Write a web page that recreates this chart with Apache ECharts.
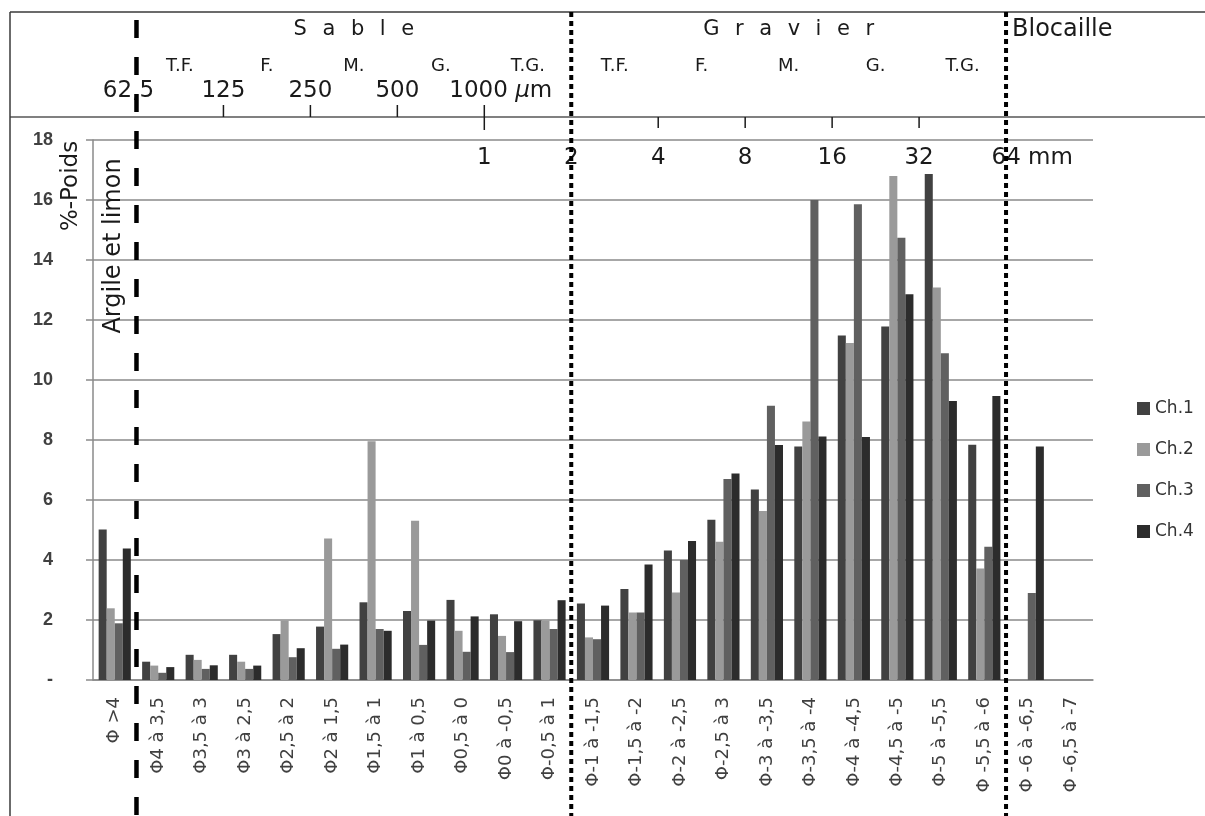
<!DOCTYPE html>
<html><head><meta charset="utf-8">
<script src="https://cdn.jsdelivr.net/npm/echarts@6/dist/echarts.min.js"></script>
<style>html,body{margin:0;padding:0;background:#fff}#c{width:1205px;height:816px}</style>
</head><body><div id="c"></div>
<script>
// ---- data ----
const categories = ['Φ >4','Φ4 à 3,5','Φ3,5 à 3','Φ3 à 2,5','Φ2,5 à 2','Φ2 à 1,5','Φ1,5 à 1','Φ1 à 0,5','Φ0,5 à 0','Φ0 à -0,5','Φ-0,5 à 1','Φ-1 à -1,5','Φ-1,5 à -2','Φ-2 à -2,5','Φ-2,5 à 3','Φ-3 à -3,5','Φ-3,5 à -4','Φ-4 à -4,5','Φ-4,5 à -5','Φ-5 à -5,5','Φ -5,5 à -6','Φ -6 à -6,5','Φ -6,5 à -7'];
const seriesNames = ['Ch.1','Ch.2','Ch.3','Ch.4'];
const ch1 = [5.02,0.61,0.84,0.84,1.53,1.78,2.59,2.30,2.67,2.19,1.99,2.55,3.03,4.32,5.34,6.35,7.78,11.48,11.78,16.87,7.84,0,0];
const ch2 = [2.39,0.48,0.67,0.61,1.98,4.72,7.96,5.31,1.64,1.47,1.98,1.42,2.25,2.92,4.61,5.63,8.62,11.23,16.80,13.08,3.72,0,0];
const ch3 = [1.89,0.24,0.37,0.37,0.76,1.04,1.70,1.17,0.94,0.93,1.70,1.36,2.25,4.00,6.70,9.14,16.00,15.86,14.74,10.89,4.44,2.90,0];
const ch4 = [4.38,0.43,0.49,0.48,1.06,1.18,1.64,1.98,2.12,1.96,2.66,2.48,3.85,4.63,6.88,7.83,8.12,8.10,12.86,9.30,9.47,7.78,0];
const seriesColors = ['#414141','#9a9a9a','#606060','#2c2c2c'];
const sandClasses = ['T.F.','F.','M.','G.','T.G.'];
const gravelClasses = ['T.F.','F.','M.','G.','T.G.'];
const umLabels = ['62,5','125','250','500','1000'];
const mmLabels = ['1','2','4','8','16','32','64 mm'];

const FONT = "'DejaVu Sans', sans-serif";
const chart = echarts.init(document.getElementById('c'));
chart.setOption({
  animation: false,
  backgroundColor: '#ffffff',
  color: seriesColors,
  grid: { left: 93, right: 112, top: 140, bottom: 136, containLabel: false },
  legend: {
    orient: 'vertical', left: 1132, top: 395,
    itemWidth: 13, itemHeight: 13, itemGap: 24, icon: 'rect',
    textStyle: { fontFamily: FONT, fontSize: 17, color: '#333' },
    data: seriesNames
  },
  xAxis: {
    type: 'category', data: categories,
    axisLine: { lineStyle: { color: '#8a8a8a', width: 1.5 } },
    axisTick: { length: 7, lineStyle: { color: '#8a8a8a', width: 1.5 } },
    axisLabel: { rotate: 90, interval: 0, fontFamily: FONT, fontSize: 18, color: '#404040', margin: 17 }
  },
  yAxis: {
    type: 'value', min: 0, max: 18, interval: 2,
    axisLine: { show: true, lineStyle: { color: '#8a8a8a', width: 1.5 } },
    axisTick: { show: true, length: 7, lineStyle: { color: '#8a8a8a', width: 1.5 } },
    splitLine: { lineStyle: { color: '#8a8a8a', width: 1.5 } },
    axisLabel: { formatter: v => v === 0 ? '-' : String(v), fontFamily: "'Liberation Sans', sans-serif", fontWeight: 'bold', fontSize: 18, color: '#404040', margin: 40 }
  },
  series: [ch1, ch2, ch3, ch4].map((d, i) => ({
    name: seriesNames[i], type: 'bar', data: d, barGap: '0%', barCategoryGap: '26%'
  }))
});

function bx(b) {
  const a = chart.convertToPixel({ xAxisIndex: 0 }, 0);
  const c = chart.convertToPixel({ xAxisIndex: 0 }, 1);
  const w = c - a;
  return a - w / 2 + b * w;
}
const g = [];
function line(x1, y1, x2, y2, stroke, lw, dash) {
  g.push({ type: 'line', z: 50, shape: { x1, y1, x2, y2 }, style: { stroke, lineWidth: lw, lineDash: dash || null } });
}
function text(str, x, y, size, align, extra) {
  g.push({ type: 'text', z: 40, x, y, style: Object.assign({ text: str, fontFamily: FONT, fontSize: size, fill: '#1a1a1a', align: align || 'center', verticalAlign: 'middle' }, extra || {}) });
}
// frame
line(10, 12, 1205, 12, '#3a3a3a', 1.5);
line(10, 117, 1205, 117, '#808080', 2);
line(10, 12, 10, 816, '#3a3a3a', 1.5);
// group titles (spaced letters)
const sp = { s: { fontSize: 56, lineHeight: 24 }, l: { fontSize: 21, fontFamily: FONT } };
function spaced(word) { return word.split('').map(ch => '{l|' + ch + '}').join('{s| }'); }
text(spaced('Sable'), bx(6), 30, 21, 'center', { rich: sp });
text(spaced('Gravier'), bx(16), 30, 21, 'center', { rich: sp });
text('Blocaille', 1012, 30, 24, 'left');
// class names
sandClasses.forEach((s, i) => text(s, bx(2 + 2 * i), 66, 18));
gravelClasses.forEach((s, i) => text(s, bx(12 + 2 * i), 66, 18));
// µm row
text(umLabels[0], bx(1) - 8, 91, 23);
[1, 2, 3].forEach(i => text(umLabels[i], bx(1 + 2 * i), 91, 23));
text('{n|' + umLabels[4] + '} {i|μ}{n|m}', bx(9) - 35, 91, 23, 'left', { rich: { n: { fontSize: 23, fontFamily: FONT }, i: { fontSize: 23, fontFamily: FONT, fontStyle: 'italic' } } });
[3, 5, 7].forEach(b => line(bx(b), 105, bx(b), 117, '#1a1a1a', 1.5));
line(bx(9), 105, bx(9), 130, '#1a1a1a', 1.5);
[13, 15, 17, 19].forEach(b => line(bx(b), 117, bx(b), 128, '#1a1a1a', 1.5));
// mm row
mmLabels.slice(0, 6).forEach((s, i) => text(s, bx(9 + 2 * i), 158, 23));
text(mmLabels[6], bx(21) - 14.5, 158, 23, 'left');
// axis titles
g.push({ type: 'text', z: 40, x: 71, y: 186, rotation: Math.PI / 2, style: { text: '%-Poids', fontFamily: FONT, fontSize: 23, fill: '#1a1a1a', align: 'center', verticalAlign: 'middle' } });
g.push({ type: 'text', z: 40, x: 114, y: 246, rotation: Math.PI / 2, style: { text: 'Argile et limon', fontFamily: FONT, fontSize: 24, fill: '#1a1a1a', align: 'center', verticalAlign: 'middle' } });
// separators
line(bx(1), 20, bx(1), 816, '#000', 4.5, [18, 19]);
line(bx(11), 12, bx(11), 816, '#000', 4, [5, 4]);
line(bx(21), 12, bx(21), 816, '#000', 4, [5, 4]);
chart.setOption({ graphic: g });
</script>
</body></html>
